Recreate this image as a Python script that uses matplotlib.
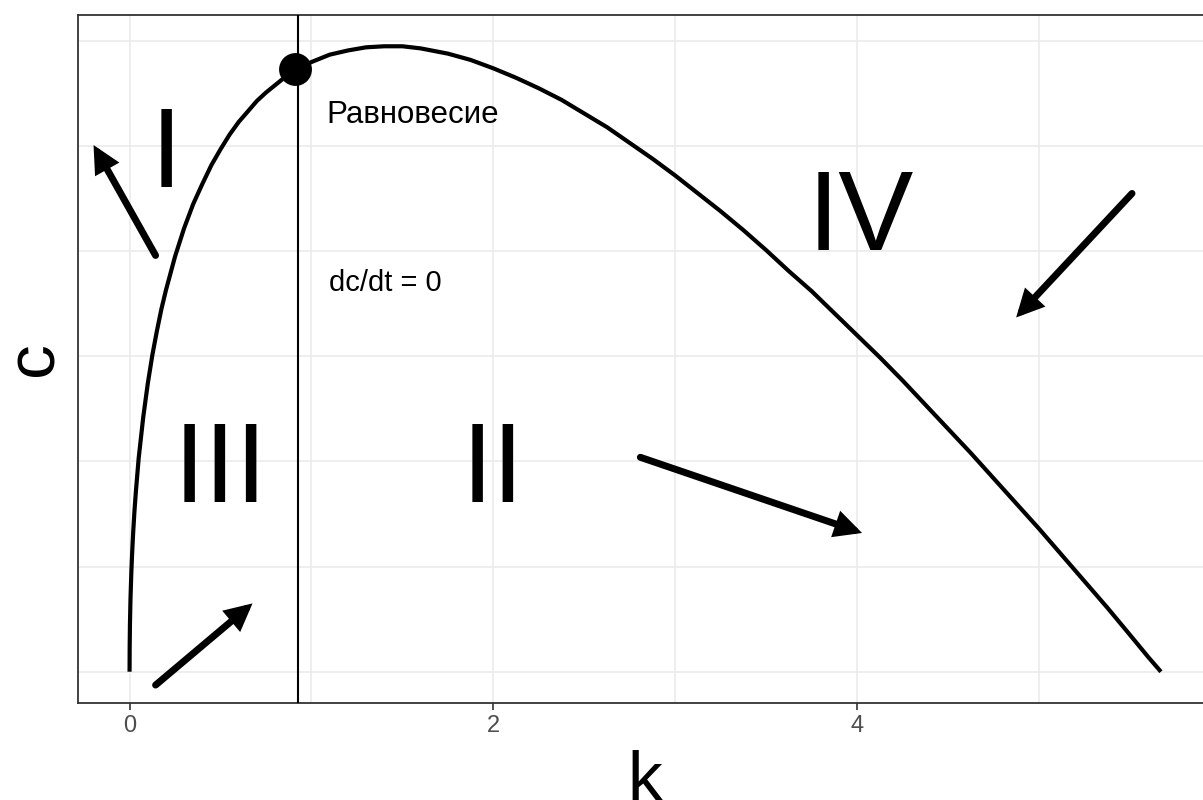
import numpy as np
import matplotlib
matplotlib.use("Agg")
import matplotlib.pyplot as plt

plt.rcParams["font.family"] = ["Liberation Sans", "DejaVu Sans"]

k_vals = [0, 0.0005, 0.002, 0.005, 0.01, 0.015, 0.02, 0.027, 0.035, 0.05,
          0.075, 0.1, 0.125, 0.15, 0.175, 0.2, 0.25, 0.3, 0.35, 0.4,
          0.45, 0.5, 0.55, 0.6, 0.65, 0.7, 0.75, 0.8, 0.85, 0.93,
          1.0, 1.1, 1.2, 1.3, 1.4, 1.5, 1.6, 1.75, 1.875, 2.0,
          2.125, 2.25, 2.375, 2.5, 2.625, 2.75, 2.875, 3.0, 3.125, 3.25,
          3.375, 3.5, 3.625, 3.75, 3.875, 4.0, 4.125, 4.25, 4.375, 4.5,
          4.625, 4.75, 4.875, 5.0, 5.125, 5.25, 5.375, 5.5, 5.6, 5.67]
c_vals = [0, 0.022, 0.044, 0.069, 0.096, 0.116, 0.133, 0.153, 0.172, 0.203,
          0.242, 0.274, 0.301, 0.324, 0.345, 0.363, 0.395, 0.422, 0.445, 0.464,
          0.482, 0.497, 0.511, 0.523, 0.533, 0.543, 0.551, 0.558, 0.565, 0.574,
          0.580, 0.587, 0.591, 0.594, 0.595, 0.595, 0.593, 0.588, 0.582, 0.574,
          0.565, 0.555, 0.544, 0.531, 0.518, 0.503, 0.488, 0.472, 0.455, 0.438,
          0.420, 0.401, 0.381, 0.362, 0.341, 0.320, 0.299, 0.277, 0.254, 0.231,
          0.208, 0.184, 0.160, 0.136, 0.111, 0.086, 0.061, 0.035, 0.014, 0.0]

k_star = 0.925
c_star = 0.573

# region labels: text, k, c
regions = ["I", "II", "III", "IV"]
region_k = [0.2, 2.0, 0.5, 4.02]
region_c = [0.5, 0.2, 0.2, 0.44]

# direction arrows: (k_from, c_from, k_to, c_to)
arrow_from_k = [0.143, 2.808, 0.143, 5.511]
arrow_from_c = [0.396, 0.204, -0.0127, 0.455]
arrow_to_k = [-0.198, 4.027, 0.676, 4.874]
arrow_to_c = [0.501, 0.132, 0.065, 0.337]

x_major = [0, 2, 4]
x_minor = [1, 3, 5]
y_grid = [0, 0.1, 0.2, 0.3, 0.4, 0.5, 0.6]

W, H = 1203, 800
fig = plt.figure(figsize=(W / 100, H / 100), dpi=100)
ax = fig.add_axes([78 / W, 97 / H, (1212.5 - 78) / W, 688 / H])

xr = max(k_vals) - min(k_vals)
yr = max(c_vals) - min(c_vals)
ax.set_xlim(min(k_vals) - 0.05 * xr, max(k_vals) + 0.05 * xr)
ax.set_ylim(min(c_vals) - 0.05 * yr, max(c_vals) + 0.05 * yr)

ax.set_xticks(x_major)
ax.set_xticks(x_minor, minor=True)
ax.set_yticks(y_grid)
ax.grid(True, which="both", color="#EBEBEB", lw=1.2, zorder=0)
ax.set_axisbelow(True)
ax.tick_params(axis="x", which="major", length=5, width=1.2, color="#333333",
               labelsize=17, labelcolor="#4D4D4D", pad=4)
ax.tick_params(axis="x", which="minor", length=0)
ax.tick_params(axis="y", length=0, labelleft=False)
for s in ax.spines.values():
    s.set_color("#333333")
    s.set_linewidth(1.3)

ax.plot(k_vals, c_vals, color="black", lw=3, solid_capstyle="butt",
        solid_joinstyle="round", zorder=3)
ax.axvline(k_star, color="black", lw=1.5, zorder=3)
ax.scatter([k_star - 0.015], [c_star], s=560, color="black", zorder=4, linewidths=0)

for k0, c0, k1, c1 in zip(arrow_from_k, arrow_from_c, arrow_to_k, arrow_to_c):
    ax.annotate("", xy=(k1, c1), xytext=(k0, c0),
                arrowprops=dict(arrowstyle="-|>", color="black", lw=5,
                                mutation_scale=30, shrinkA=0, shrinkB=0,
                                joinstyle="miter"), zorder=5)

for t, k0, c0 in zip(regions, region_k, region_c):
    ax.text(k0, c0, t, fontsize=81, ha="center", va="center_baseline", zorder=5)

ax.text(1.555, 0.533, "Равновесие", fontsize=22.5, ha="center", va="center_baseline")
ax.text(1.407, 0.373, "dc/dt = 0", fontsize=21, ha="center", va="center_baseline")

ax.set_xlabel("k", fontsize=50, labelpad=9)
ax.set_ylabel("c", fontsize=50, labelpad=8)

fig.savefig("out.png", dpi=100)
